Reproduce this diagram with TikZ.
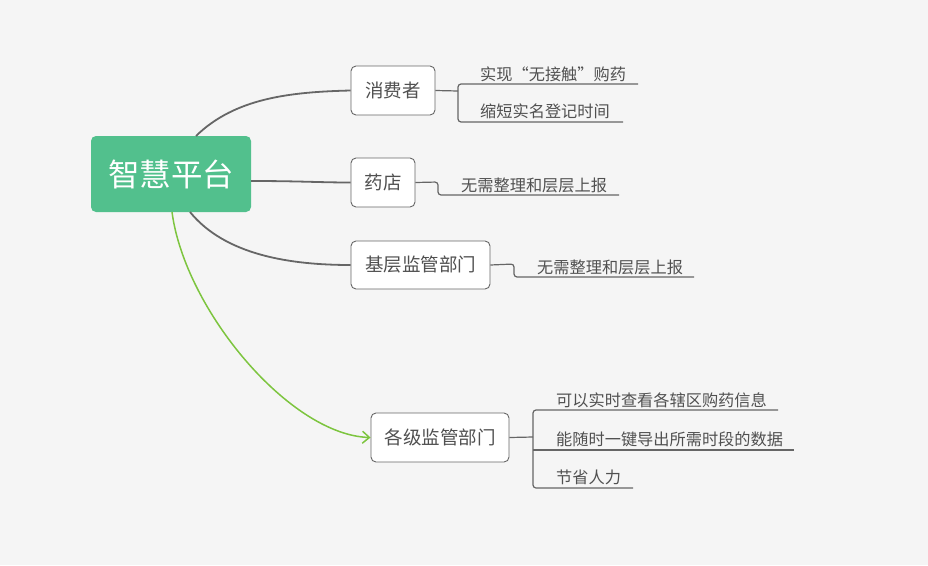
\documentclass[tikz,border=0pt]{standalone}
\usepackage{fontspec}
\setmainfont{Noto Sans CJK SC}
\usetikzlibrary{arrows.meta}
\definecolor{bg}{RGB}{245,245,245}
\definecolor{rootgreen}{RGB}{82,192,141}
\definecolor{linegray}{RGB}{102,102,102}
\definecolor{txtgray}{RGB}{80,80,80}
\definecolor{arrowgreen}{RGB}{125,197,63}
\tikzset{
  rootbox/.style={fill=rootgreen, rounded corners=5pt, text=white, font=\fontsize{31.5}{34}\selectfont, inner sep=0pt},
  subbox/.style={draw=linegray, line width=0.9pt, fill=white, rounded corners=5pt, text=txtgray, font=\fontsize{18.5}{21}\selectfont, inner sep=0pt},
  leaftext/.style={text=txtgray, font=\fontsize{16.2}{18}\selectfont, inner sep=0pt, anchor=west},
  mainline/.style={draw=linegray, line width=1.8pt},
  subline/.style={draw=linegray, line width=1.2pt, rounded corners=3pt},
}
\begin{document}
\begin{tikzpicture}[x=1pt,y=-1pt]
\useasboundingbox[fill=bg] (0,0) rectangle (928,565);
% nodes
\node[rootbox, minimum width=160pt, minimum height=76pt] (root) at (171,174) {智慧平台};
\node[subbox, minimum width=84pt, minimum height=49pt] (c) at (393,90.5) {消费者};
\node[subbox, minimum width=64pt, minimum height=49pt] (p) at (383,182.5) {药店};
\node[subbox, minimum width=139pt, minimum height=48pt] (b) at (420.5,265) {基层监管部门};
\node[subbox, minimum width=138pt, minimum height=49pt] (g) at (440,437.5) {各级监管部门};
% coordinates
\coordinate (rt) at (196,136);
\coordinate (rr) at (251,181);
\coordinate (rb) at (190,212);
\coordinate (rg) at (172,212);
% main connectors
\draw[mainline] (rt) .. controls (235,98) and (290,92) .. (c.west);
\draw[mainline] (rr) .. controls (300,181) and (320,182.5) .. (p.west);
\draw[mainline] (rb) .. controls (225,255) and (290,265) .. (b.west);
\draw[draw=arrowgreen, line width=1.5pt, -{Straight Barb[length=7pt,width=12pt]}] (rg) .. controls (185,310) and (290,435) .. (g.west);
% consumer leaves
\node[leaftext] (c1) at (480,74) {实现“无接触”购药};
\node[leaftext] (c2) at (480,111) {缩短实名登记时间};
\coordinate (c1e) at (638,84);
\coordinate (c2e) at (623,122);
\coordinate (cj) at (458,91);
\draw[subline] (c.east) -- (cj);
\draw[subline] (c1e) -- (458,84) -- (458,122) -- (c2e);
% pharmacy leaf
\node[leaftext] (p1) at (461,185) {无需整理和层层上报};
\coordinate (p1e) at (619,195);
\draw[subline] (p.east) -- (438,182) -- (438,195) -- (p1e);
% basic leaf
\node[leaftext] (b1) at (537,267) {无需整理和层层上报};
\coordinate (b1e) at (694,277);
\draw[subline] (b.east) -- (514,264) -- (514,277) -- (b1e);
% all-level leaves
\node[leaftext] (g1) at (556,400) {可以实时查看各辖区购药信息};
\node[leaftext] (g2) at (556,439) {能随时一键导出所需时段的数据};
\node[leaftext] (g3) at (556,477) {节省人力};
\coordinate (g1e) at (778,410);
\coordinate (g2e) at (794,450);
\coordinate (g3e) at (633,488);
\draw[subline] (g.east) -- (533,437);
\draw[subline] (g1e) -- (533,410) -- (533,488) -- (g3e);
\draw[subline] (533,450) -- (g2e);
\end{tikzpicture}
\end{document}
